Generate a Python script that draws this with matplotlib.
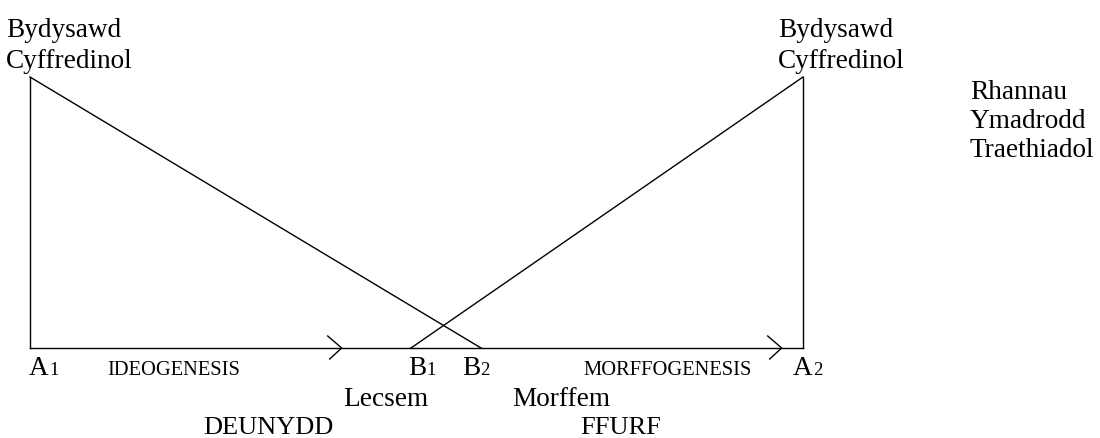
import matplotlib
matplotlib.use("Agg")
import matplotlib.pyplot as plt

# ---- content ----
top_label = ["Bydysawd", "Cyffredinol"]
side_label = ["Rhannau", "Ymadrodd", "Traethiadol"]
point_letters = ["A", "B", "B", "A"]
point_subs = ["1", "1", "2", "2"]
process_labels = ["IDEOGENESIS", "MORFFOGENESIS"]
unit_labels = ["Lecsem", "Morffem"]
domain_labels = ["DEUNYDD", "FFURF"]

# ---- layout (pixel coordinates, y downwards) ----
W, H = 1100, 439
base_y = 349
top_y = 78
left_x, right_x = 30, 803
diag1 = ((30, 78), (481, 349))
diag2 = ((411, 349), (803, 78))
arrow_tips = [341.7, 781.7]
point_x = [29, 408, 462, 793]
sub_dx = [20, 18, 18, 20]
point_base = 375
process_x = [107, 583]
unit_x = [343, 512]
unit_base = 406
domain_x = [203, 580]
domain_base = 434
top_label_x = [6, 778]
top_label_base = 37
side_x, side_base = 970, 99

FONT = ["Liberation Serif", "DejaVu Serif"]
big = 19.6
mid = 19.0
small = 14.8
sub = 13.5

fig = plt.figure(figsize=(W / 100, H / 100), dpi=100)
ax = fig.add_axes([0, 0, 1, 1])
ax.set_xlim(0, W)
ax.set_ylim(H, 0)
ax.axis("off")

lw = 1.0
k = "black"
ax.plot([left_x, left_x], [top_y, base_y], color=k, lw=lw)
ax.plot([right_x, right_x], [top_y, base_y], color=k, lw=lw)
ax.plot([left_x, right_x], [base_y, base_y], color=k, lw=lw)
for (p, q) in (diag1, diag2):
    ax.plot([p[0], q[0]], [p[1], q[1]], color=k, lw=lw)
for tx in arrow_tips:
    ax.plot([tx - 14, tx, tx - 12], [base_y - 12, base_y, base_y + 11], color=k, lw=lw)

for lx in top_label_x:
    for i, ln in enumerate(top_label):
        ax.text(lx, top_label_base + i * 31, ln, family=FONT, fontsize=big,
                va="baseline", ha="left")

for i, ln in enumerate(side_label):
    ax.text(side_x, side_base + i * 29, ln, family=FONT, fontsize=big,
            va="baseline", ha="left")

for x, L, s, dx in zip(point_x, point_letters, point_subs, sub_dx):
    ax.text(x, point_base, L, family=FONT, fontsize=big, va="baseline", ha="left")
    ax.text(x + dx, point_base, s, family=FONT, fontsize=sub, va="baseline", ha="left")

for x, t in zip(process_x, process_labels):
    ax.text(x, point_base, t, family=FONT, fontsize=small, va="baseline", ha="left")
for x, t in zip(unit_x, unit_labels):
    ax.text(x, unit_base, t, family=FONT, fontsize=big, va="baseline", ha="left")
for x, t in zip(domain_x, domain_labels):
    ax.text(x, domain_base, t, family=FONT, fontsize=mid, va="baseline", ha="left")

fig.savefig("out.png", dpi=100, facecolor="white")
